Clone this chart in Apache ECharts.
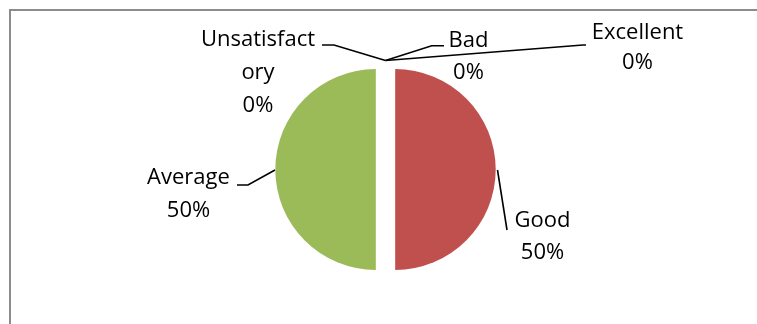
<!DOCTYPE html>
<html>
<head>
<meta charset="utf-8">
<script src="https://cdn.jsdelivr.net/npm/echarts@6/dist/echarts.min.js"></script>
<style>
html,body{margin:0;padding:0;background:#fff;}
#c{width:757px;height:324px;}
</style>
</head>
<body>
<div id="c"></div>
<script>
var categories = ['Excellent', 'Good', 'Average', 'Bad', 'Unsatisfactory'];
var values = [0, 50, 50, 0, 0];
var labelTexts = ['Excellent\n0%', 'Good\n50%', 'Average\n50%', 'Bad\n0%', 'Unsatisfact\nory\n0%'];

var colors = ['#4F81BD', '#C0504D', '#9BBB59', '#8064A2', '#4BACC6'];
// which exploded copy of the pie draws each slice (right = +offset, left = -offset)
var sides = ['right', 'right', 'left', 'left', 'left'];
var CX = 385.5, CY = 169.5, R = 100.5, EXPLODE = 9.7;
var TOP = [CX, CY - R - 8.5];
var placements = {
  0: {x: 637.5, y: 17.5, lh: 30, pts: [TOP, [583, 45], [586, 45]]},
  1: {x: 542.5, y: 204.5, lh: 32, pts: [[CX + R + 11.5, CY + 0.5], [507, 230], [507, 230]]},
  2: {x: 188.5, y: 161.5, lh: 33, pts: [[CX - R - 10, CY + 0.5], [248, 185], [237, 185]]},
  3: {x: 468.5, y: 24, lh: 32.5, pts: [TOP, [431.7, 45.7], [444, 45.7]]},
  4: {x: 258, y: 23.75, lh: 32.75, pts: [TOP, [334, 45], [322, 45]]}
};

function buildData(side, withLabels) {
  return categories.map(function (c, i) {
    return {
      name: c,
      value: values[i],
      itemStyle: {color: sides[i] === side ? colors[i] : 'rgba(0,0,0,0)'},
      label: {show: withLabels, formatter: labelTexts[i], lineHeight: placements[i].lh},
      labelLine: {show: withLabels}
    };
  });
}

function pieSeries(side, withLabels) {
  var dx = side === 'right' ? EXPLODE : -EXPLODE;
  return {
    type: 'pie',
    center: [CX + dx, CY],
    radius: [0, R],
    startAngle: 90,
    clockwise: true,
    minAngle: 0,
    avoidLabelOverlap: false,
    stillShowZeroSum: true,
    itemStyle: {borderWidth: 0},
    label: {
      color: '#000',
      fontFamily: 'Open Sans',
      fontSize: 22,
      align: 'center'
    },
    labelLine: {
      length: 10,
      length2: 10,
      lineStyle: {color: '#000', width: 1.6}
    },
    emphasis: {disabled: true},
    labelLayout: withLabels ? function (params) {
      var p = placements[params.dataIndex];
      return {
        x: p.x,
        y: p.y,
        align: 'center',
        verticalAlign: 'top',
        labelLinePoints: p.pts
      };
    } : null,
    data: buildData(side, withLabels)
  };
}

var chart = echarts.init(document.getElementById('c'), null, {renderer: 'canvas'});
chart.setOption({
  animation: false,
  backgroundColor: '#fff',
  graphic: [{
    type: 'rect',
    shape: {x: 10, y: 10, width: 900, height: 500},
    style: {fill: 'none', stroke: '#8c8c8c', lineWidth: 2},
    silent: true,
    z: -1
  }],
  series: [pieSeries('left', false), pieSeries('right', true)]
});
</script>
</body>
</html>
